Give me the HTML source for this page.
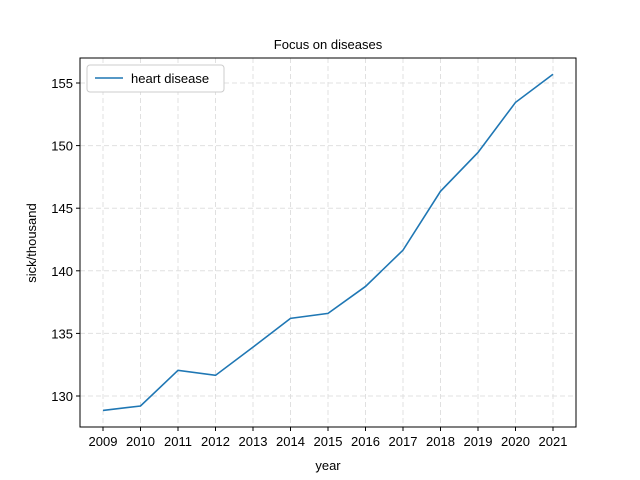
<!DOCTYPE html>
<html><head><meta charset="utf-8"><style>body{margin:0;background:#fff}svg{display:block;font-family:"Liberation Sans",sans-serif}</style></head>
<body>
<svg id="c" width="640" height="480"></svg>
<script>
const years=[2009,2010,2011,2012,2013,2014,2015,2016,2017,2018,2019,2020,2021];
const heartDisease=[128.85,129.2,132.05,131.65,133.9,136.2,136.6,138.75,141.65,146.35,149.45,153.45,155.7];
const yTicks=[130,135,140,145,150,155];
const L=80,R=576,T=58,B=427;
const x=v=>103+(v-2009)*37.5;
const y=v=>396-(v-130)*12.52;
const s=document.getElementById('c');const NS='http://www.w3.org/2000/svg';
function add(tag,attrs,parent){const e=document.createElementNS(NS,tag);for(const k in attrs)e.setAttribute(k,attrs[k]);(parent||s).appendChild(e);return e;}
const grid=add('g',{});


years.forEach(v=>{add('line',{x1:x(v),x2:x(v),y1:T,y2:B,stroke:'#e0e0e0','stroke-dasharray':'5,3'},grid);});
yTicks.forEach(v=>{add('line',{x1:L,x2:R,y1:y(v),y2:y(v),stroke:'#e0e0e0','stroke-dasharray':'5,3'},grid);});
const ax=add('rect',{x:L,y:T,width:R-L,height:B-T,fill:'none',stroke:'#000','stroke-width':1});


years.forEach(v=>{add('line',{x1:x(v),x2:x(v),y1:B,y2:B+4,stroke:'#000'});
const t=add('text',{x:x(v),y:B+19,'text-anchor':'middle','font-size':13});t.textContent=v;

});
yTicks.forEach(v=>{add('line',{x1:L-4,x2:L,y1:y(v),y2:y(v),stroke:'#000'});
const t=add('text',{x:L-7,y:y(v)+5,'text-anchor':'end','font-size':13});t.textContent=v;

});
const line=add('polyline',{points:years.map((v,i)=>x(v)+','+y(heartDisease[i])).join(' '),fill:'none',stroke:'#1f77b4','stroke-width':1.6});


const ti=add('text',{x:328,y:49,'text-anchor':'middle','font-size':13});ti.textContent='Focus on diseases';


const xt=add('text',{x:328,y:470,'text-anchor':'middle','font-size':13});xt.textContent='year';


const yt=add('text',{x:36,y:243,'text-anchor':'middle','font-size':13,transform:'rotate(-90 36 243)'});yt.textContent='sick/thousand';


const lg=add('g',{});


add('rect',{x:87,y:65,width:137,height:27,rx:3,fill:'#fff',stroke:'#ccc'},lg);
add('line',{x1:95,x2:123,y1:78,y2:78,stroke:'#1f77b4','stroke-width':1.6},lg);
const lt=add('text',{x:131,y:83,'font-size':13},lg);lt.textContent='heart disease';
</script>
</body></html>
